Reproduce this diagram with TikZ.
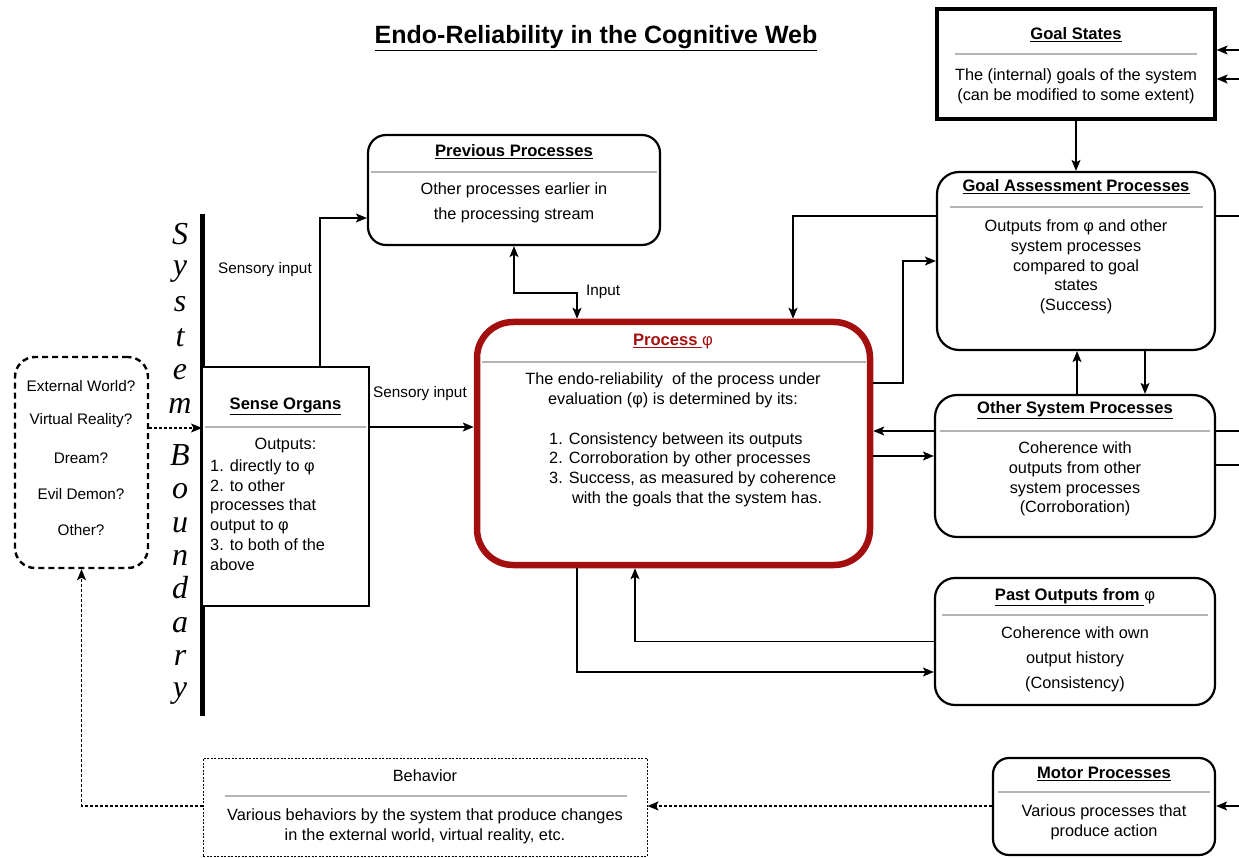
\documentclass[tikz,border=0pt]{standalone}
\usepackage{fontspec}
\setmainfont{Liberation Sans}
\newfontfamily\bserif{Liberation Serif}
\usetikzlibrary{arrows.meta}
\definecolor{procred}{HTML}{A30F0F}
\definecolor{sepgray}{HTML}{B4B4B4}
\tikzset{
  box/.style={draw, line width=2.2pt, inner sep=0pt, fill=white},
  rbox/.style={box, rounded corners=18pt},
  sepline/.style={sepgray, line width=1.3pt},
  txt/.style={align=center, inner sep=0pt, font=\fontsize{16.3}{19.7}\selectfont},
  ltxt/.style={align=left, inner sep=0pt, anchor=west, font=\fontsize{16.3}{19.7}\selectfont},
  ttl/.style={inner sep=0pt, font=\fontsize{16.6}{20}\selectfont},
  arr/.style={-{Stealth[length=11pt,width=9pt,inset=2.5pt]}, line width=1.4pt},
  darr/.style={arr, dash pattern=on 3pt off 2pt},
  lbl/.style={inner sep=0pt, font=\fontsize{15.3}{18}\selectfont},
  sysl/.style={inner sep=0pt, anchor=base, text height=21pt, text depth=1pt, font=\bserif\itshape\fontsize{32}{32}\selectfont}
}
\begin{document}
\begin{tikzpicture}[x=1pt,y=-1pt]
\useasboundingbox (0,0) rectangle (1239,858);
\fill[white] (0,0) rectangle (1239,858);

% title
\node[inner sep=0pt, font=\fontsize{25}{28}\selectfont] (title) at (596,38) {\underline{\textbf{Endo-Reliability in the Cognitive Web}}};

% system boundary
\draw[line width=5pt] (202,214) coordinate (sbtop) -- (202,716) coordinate (sbbot);
\foreach \l/\y [count=\i] in {S/245,y/276,s/312,t/347,e/379,m/413,B/465,o/498,u/532,n/565,d/598,a/632,r/665,y/697}
  \node[sysl] (sb\i) at (180,\y) {\l};

% boxes
\node[box, line width=3.2pt, minimum width=278pt, minimum height=110pt] (goal) at (1076,64) {};
\node[rbox, rounded corners=22pt, minimum width=278pt, minimum height=178pt] (ga) at (1076,261) {};
\node[rbox, rounded corners=22pt, minimum width=280pt, minimum height=142pt] (osp) at (1075,466) {};
\node[rbox, rounded corners=20pt, minimum width=280pt, minimum height=127pt] (past) at (1075,641.5) {};
\node[rbox, rounded corners=16pt, minimum width=222pt, minimum height=97pt] (motor) at (1104,806.5) {};
\node[rbox, rounded corners=18pt, minimum width=292pt, minimum height=110pt] (prev) at (514,190) {};
\node[box, draw=procred, line width=6.5pt, rounded corners=36pt, minimum width=393pt, minimum height=243pt] (proc) at (673.5,443.5) {};
\node[box, line width=2.5pt, minimum width=167pt, minimum height=239pt] (sense) at (285.5,486.5) {};
\node[box, line width=2.4pt, dash pattern=on 6pt off 4pt, rounded corners=20pt, minimum width=133pt, minimum height=211pt] (world) at (81.5,462.5) {};
\node[box, line width=1pt, dash pattern=on 2pt off 1.5pt, minimum width=444pt, minimum height=98pt] (behav) at (425,807) {};

% Goal States
\node[ttl] (goalT) at (1076,35) {\underline{\textbf{Goal States}}};
\draw[sepline] (955,54) -- (1197,54);
\node[txt] (goalB) at (1076,86) {The (internal) goals of the system\\(can be modified to some extent)};

% Goal Assessment
\node[ttl] (gaT) at (1076,187) {\underline{\textbf{Goal Assessment Processes}}};
\draw[sepline] (950,207) -- (1203,207);
\node[txt] (gaB) at (1076,267) {Outputs from φ and other\\system processes\\compared to goal\\states\\(Success)};

% Other System Processes
\node[ttl] (ospT) at (1075,410) {\underline{\textbf{Other System Processes}}};
\draw[sepline] (940,431) -- (1210,431);
\node[txt] (ospB) at (1075,479) {Coherence with\\outputs from other\\system processes\\(Corroboration)};

% Past Outputs
\node[ttl] (pastT) at (1075,597) {\underline{\textbf{Past Outputs from\ }}φ};
\draw[sepline] (942,615) -- (1208,615);
\node[txt, font=\fontsize{16.3}{25}\selectfont] (pastB) at (1075,659) {Coherence with own\\output history\\(Consistency)};

% Motor
\node[ttl] (motorT) at (1104,774) {\underline{\textbf{Motor Processes}}};
\draw[sepline] (998,792) -- (1210,792);
\node[txt] (motorB) at (1104,822) {Various processes that\\produce action};

% Previous
\node[ttl] (prevT) at (514,152) {\underline{\textbf{Previous Processes}}};
\draw[sepline] (371,172) -- (657,172);
\node[txt, font=\fontsize{16.3}{25}\selectfont] (prevB) at (514,202.5) {Other processes earlier in\\the processing stream};

% Process phi
\node[ttl, text=procred] (procT) at (673,342) {\underline{\textbf{Process\ }}φ};
\draw[sepline] (482,362) -- (866,362);
\node[txt] (procB) at (673,390.5) {The endo-reliability\ \ of the process under\\evaluation (φ) is determined by its:};
\node[ltxt] (procL) at (549,469.5) {1. Consistency between its outputs\\2. Corroboration by other processes\\3. Success, as measured by coherence\\\hspace*{1.4em}with the goals that the system has.};

% Sense Organs
\node[ttl] (senseT) at (285.5,406) {\underline{\textbf{Sense Organs}}};
\draw[sepline] (205,427) -- (366,427);
\node[txt] (senseO) at (285.5,445) {Outputs:};
\node[ltxt] (senseL) at (210,515) {1. directly to φ\\2. to other\\processes that\\output to φ\\3. to both of the\\above};

% World
\foreach \t/\y [count=\i] in {External World?/386,Virtual Reality?/421,Dream?/458,Evil Demon?/494,Other?/530}
  \node[lbl] (w\i) at (81,\y) {\t};

% Behavior
\node[txt] (behT) at (425,776) {Behavior};
\draw[sepgray, line width=2.5pt] (225,796) -- (627,796);
\node[txt] (behB) at (425,826) {Various behaviors by the system that produce changes\\in the external world, virtual reality, etc.};

% connectors
\coordinate (gin1) at (1239,50);
\coordinate (gin2) at (1239,79);
\draw[arr] (gin1) -- (goal.east |- gin1);
\draw[arr] (gin2) -- (goal.east |- gin2);
\draw[arr] (goal.south) -- (ga.north);
\draw[arr] (ga.west |- 0,216) -| ([xshift=119.5pt]proc.north);
\draw[arr] ([yshift=60.5pt]proc.east) -| (903,300) |- (ga.west);
\coordinate (gaout) at (1239,216);
\draw[line width=1.4pt] (ga.east |- gaout) -- (gaout);
\draw[arr] (osp.north -| 1077,0) -- (ga.south -| 1077,0);
\draw[arr] (ga.south -| 1145,0) -- (osp.north -| 1145,0);
\draw[arr] (osp.west |- 0,431) -- (proc.east |- 0,431);
\draw[arr] (proc.east |- 0,456) -- (osp.west |- 0,456);
\coordinate (ospo1) at (1239,431);
\coordinate (ospo2) at (1239,465);
\draw[line width=1.4pt] (osp.east |- ospo1) -- (ospo1);
\draw[line width=1.4pt] (osp.east |- ospo2) -- (ospo2);
\draw[arr, {Stealth[length=11pt,width=9pt,inset=2.5pt]}-{Stealth[length=11pt,width=9pt,inset=2.5pt]}] (prev.south) -- (514,293) -- (577,293) -- ([xshift=-96.5pt]proc.north);
\node[lbl, anchor=west] (inlbl) at (586,292) {Input};
\draw[arr] ([xshift=34.5pt]sense.north) |- ([yshift=-28pt]prev.west);
\node[lbl] (si1) at (265,270) {Sensory input};
\draw[arr] (sense.east |- 0,427) -- (proc.west |- 0,427);
\node[lbl] (si2) at (420,394) {Sensory input};
\draw[darr] (world.east |- 0,428) -- (sbtop |- 0,428);
\draw[arr] ([xshift=-96.5pt]proc.south) |- ([yshift=-30.5pt]past.west);
\draw[arr] (past.west) -| ([xshift=-38.5pt]proc.south);
\draw[darr] (motor.west |- 0,806) -- (behav.east |- 0,806);
\coordinate (min) at (1239,806);
\draw[arr] (min) -- (motor.east |- min);
\draw[darr] (behav.west |- 0,806) -| (world.south);
\end{tikzpicture}
\end{document}
